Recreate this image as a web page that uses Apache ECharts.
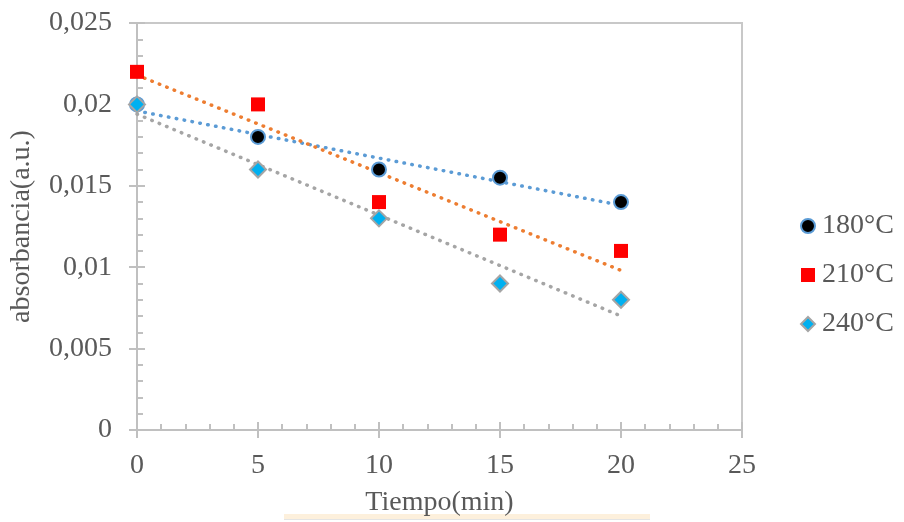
<!DOCTYPE html>
<html>
<head>
<meta charset="utf-8">
<script src="https://cdn.jsdelivr.net/npm/echarts@6/dist/echarts.min.js"></script>
<style>html,body{margin:0;padding:0;background:#fff;}#c{width:904px;height:522px;}</style>
</head>
<body>
<div id="c"></div>
<script>
const times = [0, 5, 10, 15, 20];
const seriesNames = ['180°C', '210°C', '240°C'];
const abs180 = [0.020, 0.018, 0.016, 0.0155, 0.014];
const abs210 = [0.022, 0.020, 0.014, 0.012, 0.011];
const abs240 = [0.020, 0.016, 0.013, 0.009, 0.008];
const trendX = [0, 20];
const trend180 = [0.0196, 0.0138];
const trend210 = [0.0218, 0.0098];
const trend240 = [0.0194, 0.0070];
const xTicks = ['0', '5', '10', '15', '20', '25'];
const yTicks = ['0', '0,005', '0,01', '0,015', '0,02', '0,025'];

const font = 'Liberation Serif';
const txt = '#595959';
const axc = '#C0C0C0';
const fs = 28;

const pts = ys => times.map((t, i) => [t, ys[i]]);
const tr = ys => trendX.map((t, i) => [t, ys[i]]);

const chart = echarts.init(document.getElementById('c'), null, {renderer: 'canvas'});
const dotted = c => ({color: c, width: 3.5, type: [0.5, 7.5], cap: 'round'});

chart.setOption({
  animation: false,
  backgroundColor: '#fff',
  grid: {left: 137, right: 162, top: 23, bottom: 92, show: true, borderColor: '#C8C8C8', borderWidth: 2, backgroundColor: 'transparent'},
  legend: {
    orient: 'vertical', left: 795, top: 207, itemGap: 21, itemWidth: 14, itemHeight: 14,
    data: seriesNames,
    textStyle: {fontFamily: font, fontSize: fs, color: txt, padding: [0, 0, 0, 2]}
  },
  xAxis: [{
    type: 'value', min: 0, max: 25, interval: 5,
    axisLine: {show: true, onZero: false, lineStyle: {color: axc, width: 2}},
    axisTick: {show: true, length: 8, lineStyle: {color: axc, width: 2}},
    splitLine: {show: false},
    axisLabel: {fontFamily: font, fontSize: fs, color: txt, margin: 22, formatter: (v) => xTicks[Math.round(v / 5)]},
    name: 'Tiempo(min)', nameLocation: 'middle', nameGap: 59,
    nameTextStyle: {fontFamily: font, fontSize: fs, color: txt}
  }, {
    type: 'value', min: 0, max: 25, interval: 5, position: 'bottom',
    axisLine: {show: false},
    axisTick: {show: true, inside: true, length: 8, lineStyle: {color: axc, width: 2}},
    minorTick: {show: true, splitNumber: 5, length: 6, lineStyle: {color: axc, width: 2}},
    axisLabel: {show: false}, splitLine: {show: false}
  }],
  yAxis: [{
    type: 'value', min: 0, max: 0.025, interval: 0.005,
    axisLine: {show: true, onZero: false, lineStyle: {color: axc, width: 2}},
    axisTick: {show: true, length: 8, lineStyle: {color: axc, width: 2}},
    splitLine: {show: false},
    axisLabel: {fontFamily: font, fontSize: fs, color: txt, margin: 25, formatter: (v) => yTicks[Math.round(v / 0.005)]},
    name: 'absorbancia(a.u.)', nameLocation: 'middle', nameGap: 101, nameRotate: 90,
    nameTextStyle: {fontFamily: font, fontSize: fs, color: txt}
  }, {
    type: 'value', min: 0, max: 0.025, interval: 0.005, position: 'left',
    axisLine: {show: false},
    axisTick: {show: true, inside: true, length: 8, lineStyle: {color: axc, width: 2}},
    minorTick: {show: true, splitNumber: 5, length: 6, lineStyle: {color: axc, width: 2}},
    axisLabel: {show: false}, splitLine: {show: false}
  }],
  series: [
    {name: 'trend180', type: 'line', data: tr(trend180), symbol: 'none', silent: true, z: 1, lineStyle: dotted('#5B9BD5')},
    {name: 'trend210', type: 'line', data: tr(trend210), symbol: 'none', silent: true, z: 1, lineStyle: dotted('#ED7D31')},
    {name: 'trend240', type: 'line', data: tr(trend240), symbol: 'none', silent: true, z: 1, lineStyle: dotted('#A5A5A5')},
    {name: seriesNames[0], type: 'scatter', data: pts(abs180), symbol: 'circle', symbolSize: 14, z: 3,
     itemStyle: {color: '#000000', borderColor: '#5B9BD5', borderWidth: 2, opacity: 1}},
    {name: seriesNames[1], type: 'scatter', data: pts(abs210), symbol: 'rect', symbolSize: 14, z: 3,
     itemStyle: {color: '#FF0000', opacity: 1}},
    {name: seriesNames[2], type: 'scatter', data: pts(abs240), symbol: 'diamond', symbolSize: 16, z: 3,
     itemStyle: {color: '#00B0F0', borderColor: '#A5A5A5', borderWidth: 2, opacity: 1}}
  ],
  graphic: [
    {type: 'rect', left: 284, top: 514, shape: {width: 366, height: 5}, style: {fill: '#FDF0DC'}, silent: true},
    {type: 'rect', left: 284, top: 519, shape: {width: 366, height: 1}, style: {fill: '#E4E4E4'}, silent: true}
  ]
});
</script>
</body>
</html>
